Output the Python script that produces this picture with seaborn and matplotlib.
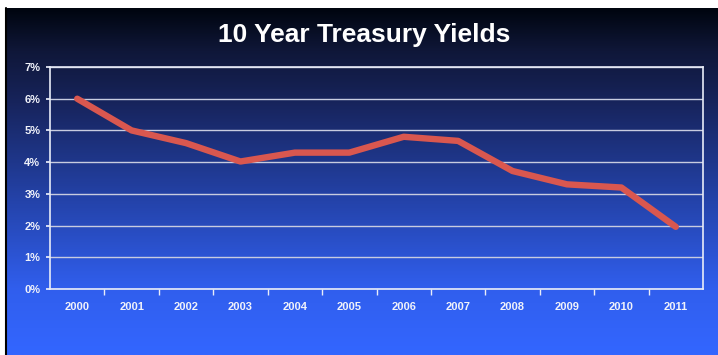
import numpy as np
import pandas as pd
import matplotlib
matplotlib.use("Agg")
import matplotlib.pyplot as plt
import seaborn as sns
from matplotlib.colors import LinearSegmentedColormap

years = [2000, 2001, 2002, 2003, 2004, 2005, 2006, 2007, 2008, 2009, 2010, 2011]
yields = [6.0, 5.0, 4.6, 4.02, 4.3, 4.3, 4.8, 4.67, 3.72, 3.3, 3.2, 1.96]
yticks = [0, 1, 2, 3, 4, 5, 6, 7]
title = "10 Year Treasury Yields"

df = pd.DataFrame({"Year": years, "Yield": yields})

sns.set_theme(style="white")
plt.rcParams['font.family'] = ['Liberation Sans', 'DejaVu Sans']

W, H = 718, 355
fig = plt.figure(figsize=(W / 100, H / 100), dpi=100)
fig.patch.set_facecolor("white")

# gradient background panel
bg = fig.add_axes([0, 0, 1, 1])
bg.set_xlim(0, W)
bg.set_ylim(H, 0)
bg.axis("off")
stops = [(0.0, (0.0, 0.02, 0.06)),
         (0.12, (0.06, 0.09, 0.22)),
         (0.27, (0.09, 0.14, 0.36)),
         (0.55, (0.14, 0.26, 0.66)),
         (0.81, (0.19, 0.37, 0.93)),
         (1.0, (0.2, 0.4, 1.0))]
cmap = LinearSegmentedColormap.from_list("bgc", stops)
grad = np.linspace(0, 1, 400).reshape(-1, 1)
bg.imshow(grad, cmap=cmap, aspect="auto", extent=(5, W, H, 8), interpolation="bilinear")
bg.plot([6, 6], [8, H], color="black", lw=1.5)

ax = fig.add_axes([50 / W, 66 / H, 653 / W, 222 / H])
ax.set_facecolor("none")
sns.lineplot(data=df, x="Year", y="Yield", ax=ax, color="#d9574f", linewidth=4.6,
             solid_capstyle="round", solid_joinstyle="round")

ax.set_xlim(1999.5, 2011.5)
ax.set_ylim(0, 7)
ax.set_yticks(yticks)
ax.set_yticklabels([f"{v}%" for v in yticks])
ax.set_xticks(years)
ax.set_xticklabels([str(y) for y in years])
ax.set_xticks([y + 0.5 for y in years[:-1]], minor=True)
ax.grid(axis="y", color="#c8cce0", linewidth=1.0)
ax.set_axisbelow(True)
ax.set_xlabel("")
ax.set_ylabel("")
for s in ax.spines.values():
    s.set_visible(True)
    s.set_color("#e8ecf8")
    s.set_linewidth(1.2)
ax.tick_params(axis="x", which="major", length=0, pad=9, labelsize=8, labelcolor="#f0f2fa")
ax.tick_params(axis="x", which="minor", length=4, color="#e8ecf8", width=1, direction="out", bottom=True)
ax.tick_params(axis="y", length=3, color="#e8ecf8", direction="out", pad=4, labelsize=8, labelcolor="#f0f2fa", left=True)
for lab in ax.get_xticklabels() + ax.get_yticklabels():
    lab.set_fontweight("bold")

fig.text(364 / W, 1 - 35 / H, title, color="white", fontsize=19, fontweight="bold",
         ha="center", va="center")

fig.savefig("out.png", dpi=100, facecolor=fig.get_facecolor())
